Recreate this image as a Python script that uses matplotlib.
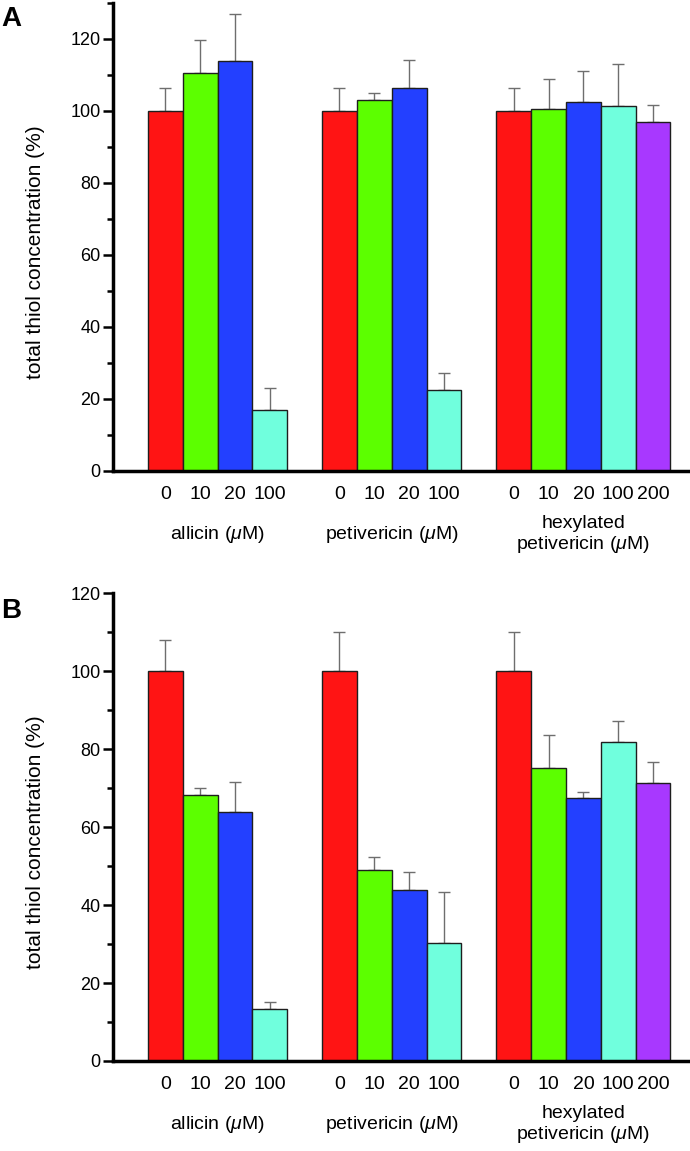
import matplotlib
matplotlib.use('Agg')
import matplotlib.pyplot as plt
from matplotlib.ticker import MultipleLocator
import numpy as np

plt.rcParams['font.family'] = ['Liberation Sans', 'DejaVu Sans']
plt.rcParams['mathtext.fontset'] = 'custom'
plt.rcParams['mathtext.rm'] = 'Liberation Sans'
plt.rcParams['mathtext.it'] = 'Liberation Sans:italic'

# groups and doses
groups = ['allicin ($\\mu$M)', 'petivericin ($\\mu$M)', 'hexylated\npetivericin ($\\mu$M)']
doses = [['0', '10', '20', '100'],
         ['0', '10', '20', '100'],
         ['0', '10', '20', '100', '200']]

# panel A
a_allicin = [100, 110.5, 113.8, 16.9]
a_allicin_err = [6.5, 9.3, 13.1, 6.1]
a_petiv = [100, 103.0, 106.3, 22.6]
a_petiv_err = [6.5, 1.9, 7.8, 4.7]
a_hexyl = [100, 100.6, 102.6, 101.3, 97.0]
a_hexyl_err = [6.5, 8.2, 8.5, 11.8, 4.6]

# panel B
b_allicin = [100, 68.2, 63.8, 13.4]
b_allicin_err = [8.1, 1.8, 7.7, 1.8]
b_petiv = [100, 49.0, 43.8, 30.4]
b_petiv_err = [10.0, 3.3, 4.7, 13.0]
b_hexyl = [100, 75.1, 67.5, 81.8, 71.4]
b_hexyl_err = [10.0, 8.6, 1.6, 5.5, 5.3]

colors = ['#ff1414', '#5cff00', '#2340ff', '#70ffdd', '#a838ff']
ylabel = 'total thiol concentration (%)'


def draw_panel(ax, vals, errs, ytop):
    xs_all, labs_all = [], []
    for g, (v, e) in enumerate(zip(vals, errs)):
        x = np.arange(len(v)) + 5 * g
        ax.errorbar(x, v, yerr=[np.zeros(len(v)), e], fmt='none', ecolor='#6e6e6e',
                    elinewidth=1, capsize=4.5, capthick=1, zorder=1)
        ax.bar(x, v, width=1.0, color=colors[:len(v)], edgecolor='#1e1e1e',
               linewidth=1, zorder=2)
        xs_all.extend(x)
        labs_all.extend(doses[g])
        ax.annotate(groups[g], xy=(x.mean(), 0), xycoords=('data', 'axes fraction'),
                    xytext=(0, -46), textcoords='offset points', ha='center', va='center',
                    fontsize=14, linespacing=1.12, annotation_clip=False)
    ax.set_xticks(xs_all)
    ax.set_xticklabels(labs_all)
    ax.set_xlim(-1.5, 15.06)
    ax.set_ylim(0, ytop)
    ax.yaxis.set_major_locator(MultipleLocator(20))
    ax.yaxis.set_minor_locator(MultipleLocator(10))
    for s in ['top', 'right']:
        ax.spines[s].set_visible(False)
    for s in ['left', 'bottom']:
        ax.spines[s].set_linewidth(2.5)
    ax.tick_params(axis='x', length=0, pad=10.5, labelsize=14)
    ax.tick_params(axis='y', which='major', direction='out', length=7, width=1.8, labelsize=13, pad=2)
    ax.tick_params(axis='y', which='minor', direction='out', length=4, width=1.8)
    ax.set_ylabel(ylabel, fontsize=15)
    ax.yaxis.set_label_coords(-0.118, 0.468)


fig = plt.figure(figsize=(6.9, 11.51), dpi=100)
axA = fig.add_axes([0.1638, 0.5908, 0.8362, 0.4066])
axB = fig.add_axes([0.1638, 0.0782, 0.8362, 0.4063])

draw_panel(axA, [a_allicin, a_petiv, a_hexyl], [a_allicin_err, a_petiv_err, a_hexyl_err], 130)
draw_panel(axB, [b_allicin, b_petiv, b_hexyl], [b_allicin_err, b_petiv_err, b_hexyl_err], 120)

fig.text(0.002, 1 - 19 / 1151, 'A', fontsize=20, fontweight='bold', ha='left', va='center')
fig.text(0.002, 1 - 611 / 1151, 'B', fontsize=20, fontweight='bold', ha='left', va='center')

fig.savefig('out.png', dpi=100)
